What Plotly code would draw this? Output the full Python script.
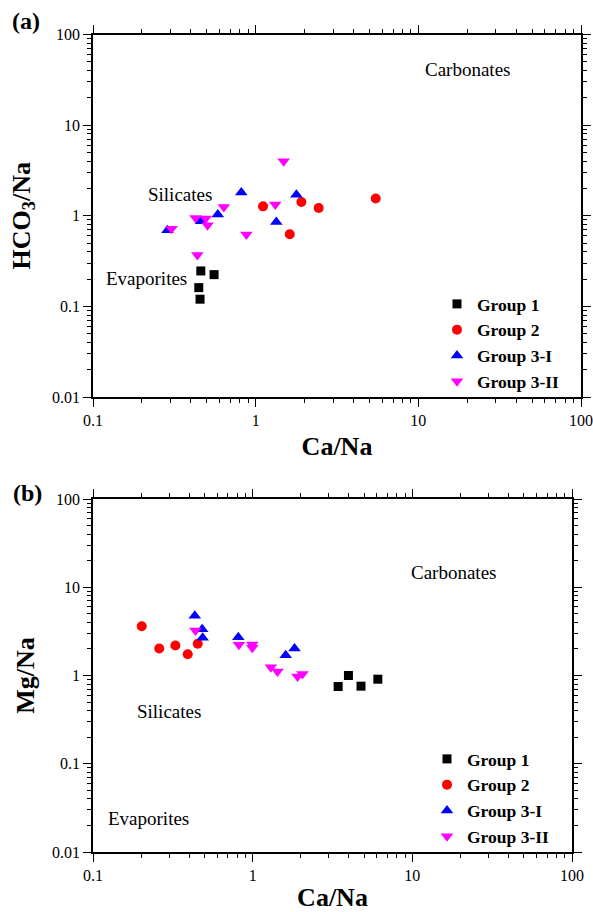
import plotly.graph_objects as go

W, H = 593, 912
SERIF = "Liberation Serif"

# ---------------- data: panel (a) Ca/Na vs HCO3/Na ----------------
a_g1_x = [0.46, 0.555, 0.447, 0.455]
a_g1_y = [0.246, 0.224, 0.161, 0.12]
a_g2_x = [1.11, 1.91, 2.44, 5.47, 1.62]
a_g2_y = [1.27, 1.42, 1.22, 1.55, 0.625]
a_g3i_x = [0.816, 1.78, 0.585, 0.461, 1.34, 0.287]
a_g3i_y = [1.80, 1.71, 1.03, 0.87, 0.854, 0.69]
a_g3ii_x = [1.486, 0.637, 1.32, 0.427, 0.493, 0.506, 0.304, 0.877, 0.438]
a_g3ii_y = [4.0, 1.25, 1.33, 0.946, 0.93, 0.785, 0.72, 0.62, 0.369]

# ---------------- data: panel (b) Ca/Na vs Mg/Na ----------------
b_g1_x = [3.98, 4.77, 6.08, 3.43]
b_g1_y = [1.0, 0.757, 0.908, 0.75]
b_g2_x = [0.202, 0.26, 0.328, 0.392, 0.453]
b_g2_y = [3.62, 2.02, 2.19, 1.74, 2.29]
b_g3i_x = [0.434, 0.483, 0.486, 0.813, 1.83, 1.61]
b_g3i_y = [4.75, 3.35, 2.67, 2.72, 2.02, 1.70]
b_g3ii_x = [0.438, 0.82, 0.995, 0.995, 1.30, 1.43, 1.91, 2.05]
b_g3ii_y = [3.24, 2.23, 2.25, 2.06, 1.24, 1.11, 0.974, 1.04]

group_names = ["Group 1", "Group 2", "Group 3-I", "Group 3-II"]
group_colors = ["#000000", "#FF0000", "#0000FF", "#FF00FF"]
group_symbols = ["square", "circle", "triangle-up", "triangle-down"]
group_sizes = [9, 10, 11, 11]

x_tickvals = [0.1, 1, 10, 100]
x_ticktext = ["0.1", "1", "10", "100"]
y_tickvals = [0.01, 0.1, 1, 10, 100]
y_ticktext = ["0.01", "0.1", "1", "10", "100"]

region_labels = ["Carbonates", "Silicates", "Evaporites"]

panel_a = [(a_g1_x, a_g1_y), (a_g2_x, a_g2_y), (a_g3i_x, a_g3i_y), (a_g3ii_x, a_g3ii_y)]
panel_b = [(b_g1_x, b_g1_y), (b_g2_x, b_g2_y), (b_g3i_x, b_g3i_y), (b_g3ii_x, b_g3ii_y)]

fig = go.Figure()
for i, (xs, ys) in enumerate(panel_a):
    fig.add_trace(go.Scatter(
        x=xs, y=ys, mode="markers", name=group_names[i],
        marker=dict(symbol=group_symbols[i], color=group_colors[i], size=group_sizes[i], line=dict(width=0)),
        xaxis="x", yaxis="y", legend="legend"))
for i, (xs, ys) in enumerate(panel_b):
    fig.add_trace(go.Scatter(
        x=xs, y=ys, mode="markers", name=group_names[i],
        marker=dict(symbol=group_symbols[i], color=group_colors[i], size=group_sizes[i], line=dict(width=0)),
        xaxis="x2", yaxis="y2", legend="legend2"))

minor_vals = [m * 10 ** e for e in range(-2, 2) for m in range(2, 10)]


def log_axis(tv, tt, rng, domain, anchor, title, standoff):
    return dict(
        type="log", range=rng, domain=domain, anchor=anchor,
        tickmode="array", tickvals=tv, ticktext=tt,
        ticks="outside", ticklen=8, tickwidth=1, tickcolor="black",
        minor=dict(tickmode="array", tickvals=minor_vals, ticks="outside",
                   ticklen=4, tickwidth=1, tickcolor="black", showgrid=False),
        showline=True, linecolor="black", linewidth=1.5, mirror="ticks",
        showgrid=False, zeroline=False, automargin=False,
        tickfont=dict(family=SERIF, size=16, color="black"),
        title=dict(text=title, font=dict(family=SERIF, size=26, color="black", weight="bold"),
                   standoff=standoff),
    )


def px_x(p):
    return p / W


def px_y(p):
    return 1 - p / H


LEG_FONT = dict(family=SERIF, size=17.5, color="black", weight="bold")

fig.update_layout(
    width=W, height=H,
    margin=dict(l=0, r=0, t=0, b=0),
    paper_bgcolor="white", plot_bgcolor="white",
    template="none",
    font=dict(family=SERIF, color="black"),
    xaxis=log_axis(x_tickvals, x_ticktext, [-1, 2], [px_x(93), px_x(581)], "y", "Ca/Na", 9),
    yaxis=log_axis(y_tickvals, y_ticktext, [-2, 2], [px_y(397), px_y(34.5)], "x", "HCO<sub>3</sub>/Na", 14),
    xaxis2=log_axis(x_tickvals, x_ticktext, [-1, 2], [px_x(93), px_x(572)], "y2", "Ca/Na", 9),
    yaxis2=log_axis(y_tickvals, y_ticktext, [-2, 2], [px_y(852), px_y(499)], "x2", "Mg/Na", 10),
    legend=dict(x=px_x(437), y=px_y(286), xanchor="left", yanchor="top",
                bgcolor="rgba(0,0,0,0)", borderwidth=0, font=LEG_FONT),
    legend2=dict(x=px_x(427), y=px_y(741), xanchor="left", yanchor="top",
                 bgcolor="rgba(0,0,0,0)", borderwidth=0, font=LEG_FONT),
)

ann = [
    dict(text="<b>(a)</b>", x=px_x(26), y=px_y(21)),
    dict(text="<b>(b)</b>", x=px_x(27), y=px_y(493)),
]
for a in ann:
    fig.add_annotation(x=a["x"], y=a["y"], xref="paper", yref="paper", text=a["text"],
                       showarrow=False, xanchor="center", yanchor="middle",
                       font=dict(family=SERIF, size=24, color="black"))

label_font = dict(family=SERIF, size=19, color="black")
region_pos_a = [(467, 69), (180, 194), (146, 278)]
region_pos_b = [(453, 572), (169, 711), (148, 818)]
for lab, (px, py) in zip(region_labels, region_pos_a):
    fig.add_annotation(x=px_x(px), y=px_y(py), xref="paper", yref="paper", text=lab,
                       showarrow=False, xanchor="center", yanchor="middle", font=label_font)
for lab, (px, py) in zip(region_labels, region_pos_b):
    fig.add_annotation(x=px_x(px), y=px_y(py), xref="paper", yref="paper", text=lab,
                       showarrow=False, xanchor="center", yanchor="middle", font=label_font)

fig.write_html("out.html", config={"displayModeBar": False},
               post_script="document.body.style.margin='0';")
